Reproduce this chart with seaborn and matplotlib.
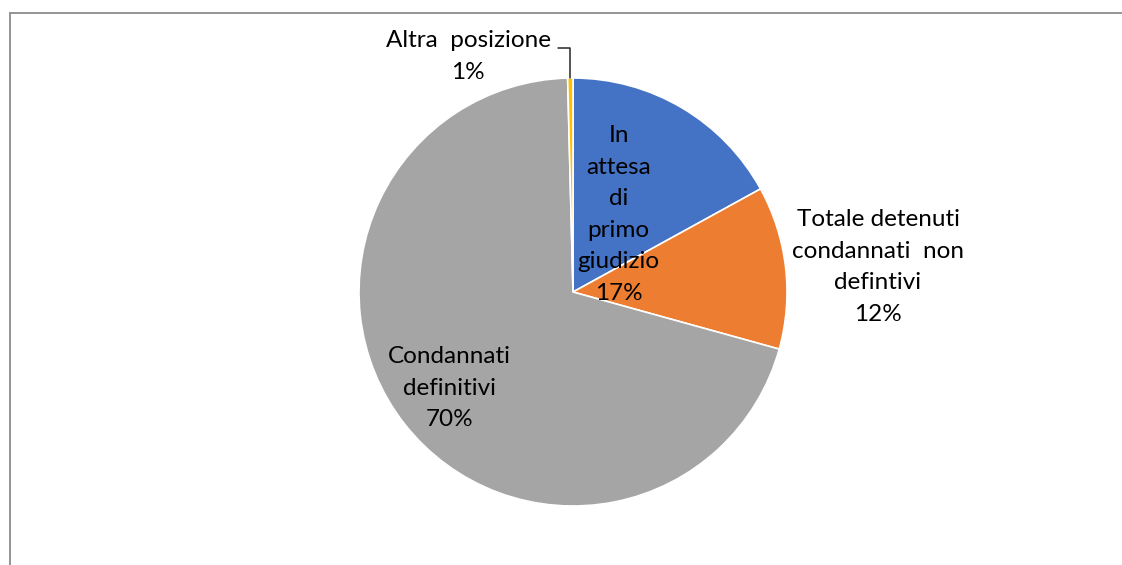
import numpy as np
import matplotlib
matplotlib.use("Agg")
import matplotlib.pyplot as plt
from matplotlib.lines import Line2D
import seaborn as sns

# ----------------------------
# Data
# ----------------------------
labels = ["In\nattesa\ndi\nprimo\ngiudizio", "Totale detenuti\ncondannati  non\ndefintivi",
          "Condannati\ndefinitivi", "Altra  posizione"]
values = [17.0, 12.3, 70.3, 0.4]
pct_text = ["17%", "12%", "70%", "1%"]
colors = ["#4472C4", "#ED7D31", "#A5A5A5", "#FFC000"]

sns.set_theme(style="white")
plt.rcParams["font.family"] = ["Lato", "DejaVu Sans"]

W, H = 1122, 565
fig = plt.figure(figsize=(W / 100, H / 100), dpi=100)

# pie axes: centre (573, 292) px, radius ~214 px
cx, cy, r = 573, 292, 214
ax = fig.add_axes([(cx - r) / W, (H - cy - r) / H, 2 * r / W, 2 * r / H])
wedges, _ = ax.pie(values, colors=colors, startangle=90, counterclock=False,
                   radius=1, wedgeprops=dict(edgecolor="white", linewidth=1.2))
ax.set_xlim(-1, 1)
ax.set_ylim(-1, 1)
ax.set_aspect("equal")
ax.axis("off")

fs = 17.5
ls = 1.62
# label distance (radius units) and angle tweak (deg) per slice
dist = [0.42, 1.43, 0.73]
tweak = [0, -2.0, 0]
for i in range(3):
    w = wedges[i]
    mid = np.deg2rad((w.theta1 + w.theta2) / 2 + tweak[i])
    x, y = dist[i] * np.cos(mid), dist[i] * np.sin(mid)
    ax.text(x, y, labels[i] + "\n" + pct_text[i], ha="center", va="center",
            fontsize=fs, linespacing=ls, color="#000000", clip_on=False)

# small slice with leader line
w = wedges[3]
mid = np.deg2rad((w.theta1 + w.theta2) / 2)
tip = (np.cos(mid), np.sin(mid))
ax.plot([tip[0], tip[0], -0.07], [tip[1], 1.14, 1.14], color="#262626", lw=1.1, clip_on=False)
ax.text(-0.49, 1.10, labels[3] + "\n" + pct_text[3], ha="center", va="center",
        fontsize=fs, linespacing=ls, color="#000000", clip_on=False)

# chart border (partially visible in the crop)
frame_col = "#8C8C8C"
fig.add_artist(Line2D([9.5 / W, 9.5 / W], [0, (H - 12.5) / H], color=frame_col, lw=1.3,
                      transform=fig.transFigure))
fig.add_artist(Line2D([9.5 / W, 1], [(H - 12.5) / H, (H - 12.5) / H], color=frame_col, lw=1.3,
                      transform=fig.transFigure))

fig.savefig("out.png", dpi=100, facecolor="white")
